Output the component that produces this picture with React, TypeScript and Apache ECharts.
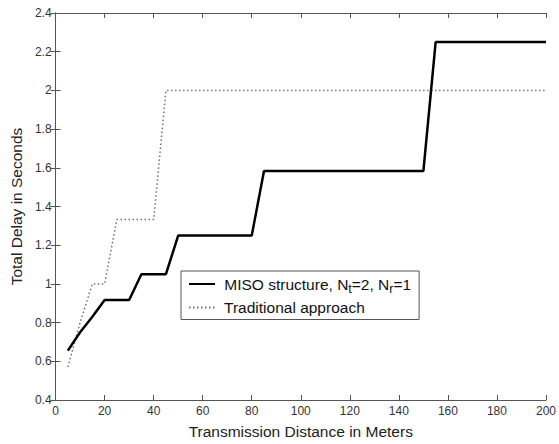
import React, { useEffect, useRef } from "react";
import * as echarts from "echarts";

const misoDistances = [5, 10, 15, 20, 30, 35, 45, 50, 80, 85, 150, 155, 200];
const misoDelays = [0.655, 0.75, 0.83, 0.917, 0.917, 1.05, 1.05, 1.25, 1.25, 1.583, 1.583, 2.25, 2.25];
const tradDistances = [5, 10, 15, 20, 25, 40, 45, 200];
const tradDelays = [0.571, 0.8, 1.0, 1.0, 1.333, 1.333, 2.0, 2.0];
const xTicks = [0, 20, 40, 60, 80, 100, 120, 140, 160, 180, 200];
const yTicks = [0.4, 0.6, 0.8, 1, 1.2, 1.4, 1.6, 1.8, 2, 2.2, 2.4];

const FONT = "'Liberation Sans', Arial, sans-serif";

export default function App() {
  const ref = useRef<HTMLDivElement>(null);
  useEffect(() => {
    if (!ref.current) return;
    const chart = echarts.init(ref.current, null, { renderer: "svg" });
    const axisLine = { show: true, lineStyle: { color: "#555", width: 1 } };
    const tick = { show: true, inside: true, length: 5, lineStyle: { color: "#555" } };
    chart.setOption({
      animation: false,
      backgroundColor: "#fff",
      grid: { left: 50, top: 13, right: 10, bottom: 39, containLabel: false },
      textStyle: { fontFamily: FONT },
      xAxis: [
        {
          type: "value",
          min: xTicks[0],
          max: xTicks[xTicks.length - 1],
          interval: 20,
          position: "bottom",
          name: "Transmission Distance in Meters",
          nameLocation: "middle",
          nameGap: 23,
          nameTextStyle: { fontSize: 15.5, color: "#222", fontFamily: FONT },
          axisLine,
          axisTick: tick,
          axisLabel: { fontSize: 12, color: "#333", margin: 5, fontFamily: FONT },
          splitLine: { show: false },
        },
        {
          type: "value",
          min: xTicks[0],
          max: xTicks[xTicks.length - 1],
          interval: 20,
          position: "top",
          axisLine,
          axisTick: tick,
          axisLabel: { show: false },
          splitLine: { show: false },
        },
      ],
      yAxis: [
        {
          type: "value",
          min: yTicks[0],
          max: yTicks[yTicks.length - 1],
          interval: 0.2,
          position: "left",
          name: "Total Delay in Seconds",
          nameLocation: "middle",
          nameGap: 30,
          nameTextStyle: { fontSize: 15.5, color: "#222", fontFamily: FONT },
          axisLine,
          axisTick: tick,
          axisLabel: {
            fontSize: 12,
            color: "#333",
            margin: 4,
            fontFamily: FONT,
            formatter: (v: number) => String(Math.round(v * 10) / 10),
          },
          splitLine: { show: false },
        },
        {
          type: "value",
          min: yTicks[0],
          max: yTicks[yTicks.length - 1],
          interval: 0.2,
          position: "right",
          axisLine,
          axisTick: tick,
          axisLabel: { show: false },
          splitLine: { show: false },
        },
      ],
      legend: {
        orient: "vertical",
        left: 181,
        top: 271,
        itemWidth: 26,
        itemHeight: 14,
        itemGap: 4,
        padding: [5, 8, 4, 7],
        borderColor: "#555",
        borderWidth: 1,
        backgroundColor: "#fff",
        itemStyle: { opacity: 0 },
        data: ["MISO", "Traditional"],
        formatter: (name: string) =>
          name === "MISO"
            ? " MISO structure, N{sub|t}=2, N{sub|r}=1"
            : " Traditional approach",
        textStyle: {
          fontSize: 15.5,
          color: "#111",
          fontFamily: FONT,
          rich: {
            sub: { fontSize: 12.5, color: "#111", fontFamily: FONT, padding: [10, 0, 0, 0] },
          },
        },
      },
      series: [
        {
          name: "MISO",
          type: "line",
          symbol: "none",
          data: misoDistances.map((d, i) => [d, misoDelays[i]]),
          lineStyle: { color: "#000", width: 2.5, type: "solid" },
          itemStyle: { color: "#000" },
          z: 3,
        },
        {
          name: "Traditional",
          type: "line",
          symbol: "none",
          data: tradDistances.map((d, i) => [d, tradDelays[i]]),
          lineStyle: { color: "#707070", width: 1.5, type: [1.5, 2.5] },
          itemStyle: { color: "#707070" },
          z: 2,
        },
      ],
    });
    return () => chart.dispose();
  }, []);
  return <div ref={ref} style={{ width: 559, height: 444, position: "absolute", left: 0, top: 0 }} />;
}
